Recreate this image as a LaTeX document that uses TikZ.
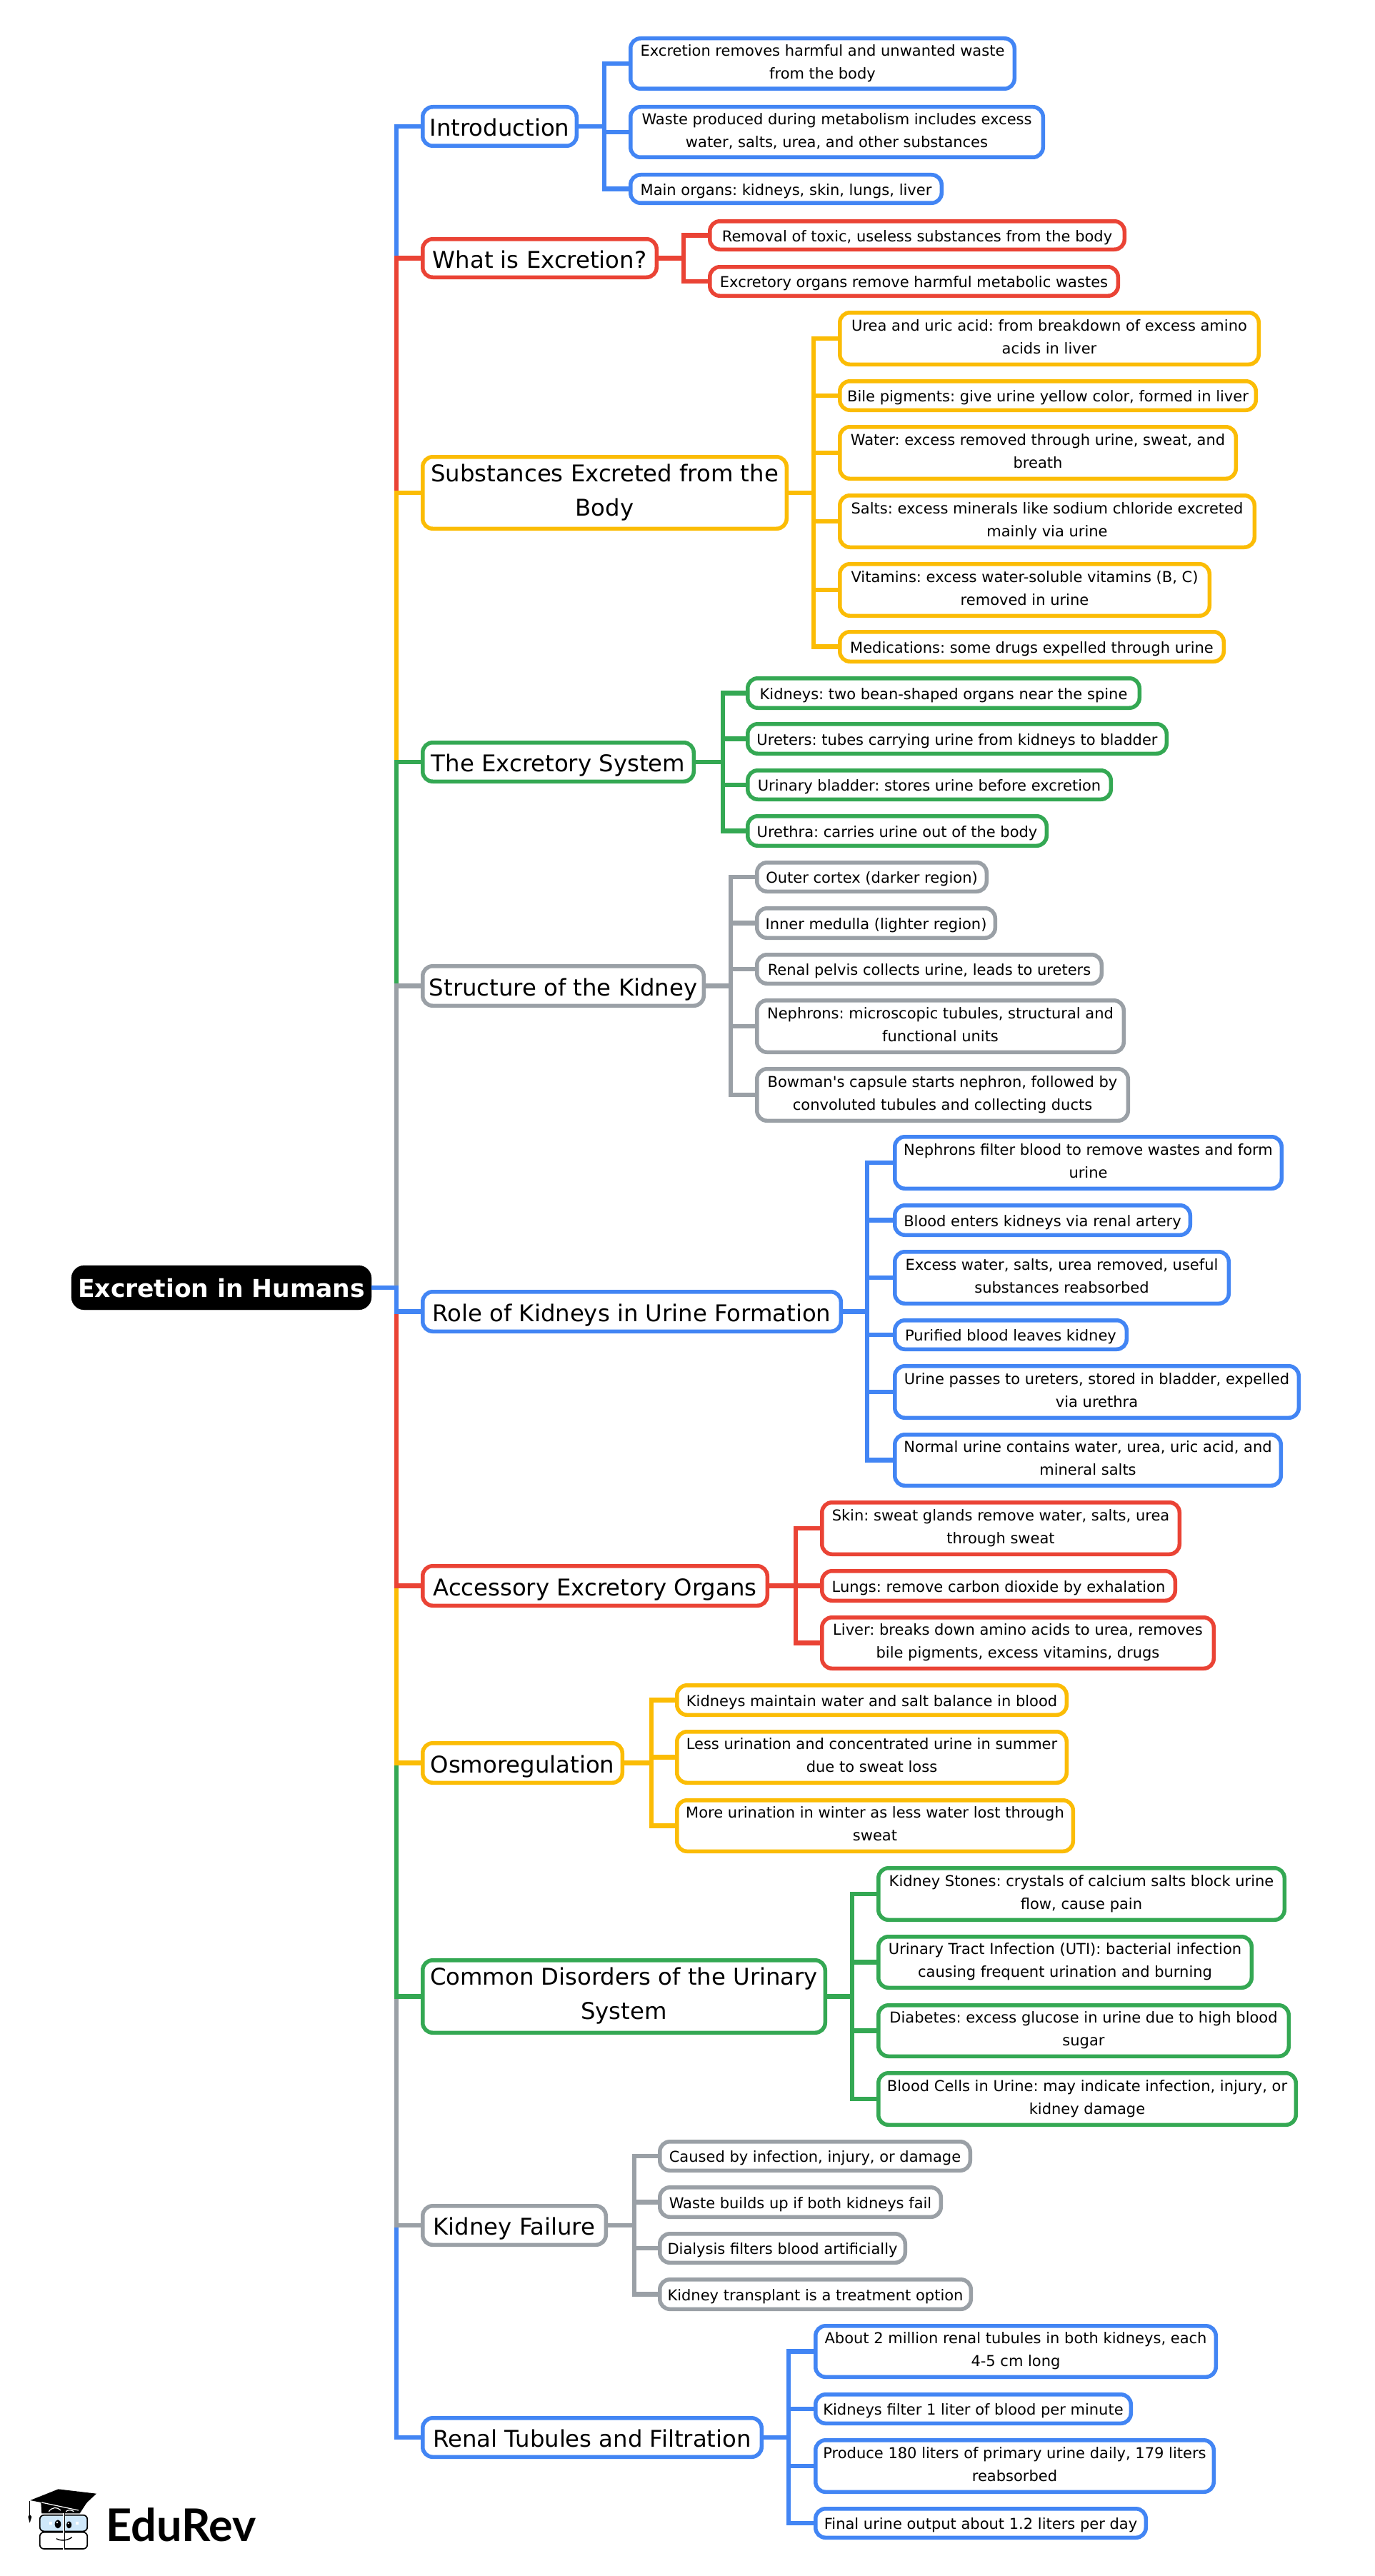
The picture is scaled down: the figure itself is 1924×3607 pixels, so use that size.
\documentclass[tikz,border=0pt]{standalone}
\usepackage{fontspec}
\setmainfont{DejaVu Sans}
\newfontfamily\logofont{Lato}
\frenchspacing
\newcommand{\straightquote}{\XeTeXglyph\XeTeXcharglyph"0027 }
\definecolor{cblue}{HTML}{4285F4}
\definecolor{cred}{HTML}{EA4335}
\definecolor{cyel}{HTML}{FBBC05}
\definecolor{cgrn}{HTML}{34A853}
\definecolor{cgry}{HTML}{9AA0A6}
\definecolor{lens}{HTML}{CFE8FA}
\tikzset{
  boxbase/.style={draw=#1,fill=white,rectangle,rounded corners=14pt,line width=5.5pt,inner sep=0pt,outer sep=0pt,align=center,text=black},
  leafbox/.style={boxbase=#1,font=\fontsize{21}{32.4}\selectfont,
    execute at begin node={\rule{0pt}{23pt}},execute at end node={\rule[-5.5pt]{0pt}{5.5pt}}},
  mainbox/.style={boxbase=#1,font=\fontsize{32.3}{48}\selectfont,
    execute at begin node={\rule{0pt}{35pt}},execute at end node={\rule[-8pt]{0pt}{8pt}}},
  rootbox/.style={draw=black,fill=black,rectangle,rounded corners=18pt,text=white,inner sep=0pt,outer sep=0pt,font=\fontsize{34.5}{40}\selectfont\bfseries,
    execute at begin node={\rule{0pt}{36pt}},execute at end node={\rule[-8.5pt]{0pt}{8.5pt}}},
  link/.style={draw=#1,line width=6.5pt,line join=miter,line cap=butt},
}
% \mainnode{id}{colour}{left}{right}{top}{bottom}{junction x}{text}
\newcommand{\mainnode}[8]{%
  \pgfmathsetmacro{\mw}{#4+1-(#3-3)-5.5}\pgfmathsetmacro{\mh}{#6-#5-5.5}%
  \pgfmathsetmacro{\mx}{(#3-3+#4+1)/2}\pgfmathsetmacro{\my}{(#5+#6)/2}%
  \node[mainbox=#2,minimum width=\mw pt,minimum height=\mh pt] (#1) at (\mx,\my) {#8};
  \coordinate (#1j) at (#7,\my);
  \draw[link=#2] (#1.east) -- (#1j);
}
% \leafnode{id}{colour}{main id}{left}{right}{top}{bottom}{text}
\newcommand{\leafnode}[8]{%
  \pgfmathsetmacro{\mw}{#5-(#4-3)-5.5}\pgfmathsetmacro{\mh}{#7-#6-5.5}%
  \pgfmathsetmacro{\mx}{(#4-3+#5)/2}\pgfmathsetmacro{\my}{(#6+#7)/2}%
  \node[leafbox=#2,minimum width=\mw pt,minimum height=\mh pt] (#1) at (\mx,\my) {#8};
  \draw[link=#2] (#3j) |- (#1.west);
}
\begin{document}
\begin{tikzpicture}[x=1pt,y=-1pt]
\useasboundingbox (0,0) rectangle (1924,3607);
\fill[white] (0,0) rectangle (1924,3607);

\node[rootbox,minimum width=420pt,minimum height=62pt] (root) at (310,1803) {Excretion in Humans};
\coordinate (trunk) at (555,1803);

\mainnode{intro}{cblue}{592}{809}{147}{207}{846}{Introduction}
\leafnode{i1}{cblue}{intro}{883}{1423}{51}{127}{Excretion removes harmful and unwanted waste\\from the body}
\leafnode{i2}{cblue}{intro}{883}{1463}{147}{223}{Waste produced during metabolism includes excess\\water, salts, urea, and other substances}
\leafnode{i3}{cblue}{intro}{883}{1321}{242}{287}{Main organs: kidneys, skin, lungs, liver}

\mainnode{what}{cred}{592}{921}{332}{391}{957}{What is Excretion?}
\leafnode{w1}{cred}{what}{994}{1577}{307}{352}{Removal of toxic, useless substances from the body}
\leafnode{w2}{cred}{what}{994}{1568}{371}{417}{Excretory organs remove harmful metabolic wastes}

\mainnode{subs}{cyel}{592}{1103}{637}{743}{1139}{Substances Excreted from the\\Body}
\leafnode{s1}{cyel}{subs}{1176}{1765}{435}{513}{Urea and uric acid: from breakdown of excess amino\\acids in liver}
\leafnode{s2}{cyel}{subs}{1176}{1761}{531}{577}{Bile pigments: give urine yellow color, formed in liver}
\leafnode{s3}{cyel}{subs}{1176}{1733}{595}{673}{Water: excess removed through urine, sweat, and\\breath}
\leafnode{s4}{cyel}{subs}{1176}{1759}{691}{769}{Salts: excess minerals like sodium chloride excreted\\mainly via urine}
\leafnode{s5}{cyel}{subs}{1176}{1696}{787}{865}{Vitamins: excess water-soluble vitamins (B, C)\\removed in urine}
\leafnode{s6}{cyel}{subs}{1176}{1716}{882}{929}{Medications: some drugs expelled through urine}

\mainnode{excr}{cgrn}{592}{973}{1037}{1097}{1012}{The Excretory System}
\leafnode{e1}{cgrn}{excr}{1047}{1598}{947}{994}{Kidneys: two bean-shaped organs near the spine}
\leafnode{e2}{cgrn}{excr}{1047}{1636}{1011}{1058}{Ureters: tubes carrying urine from kidneys to bladder}
\leafnode{e3}{cgrn}{excr}{1047}{1558}{1076}{1122}{Urinary bladder: stores urine before excretion}
\leafnode{e4}{cgrn}{excr}{1047}{1468}{1140}{1187}{Urethra: carries urine out of the body}

\mainnode{stru}{cgry}{592}{987}{1350}{1411}{1023}{Structure of the Kidney}
\leafnode{k1}{cgry}{stru}{1060}{1384}{1205}{1251}{Outer cortex (darker region)}
\leafnode{k2}{cgry}{stru}{1060}{1396}{1269}{1316}{Inner medulla (lighter region)}
\leafnode{k3}{cgry}{stru}{1060}{1545}{1334}{1380}{Renal pelvis collects urine, leads to ureters}
\leafnode{k4}{cgry}{stru}{1060}{1576}{1398}{1476}{Nephrons: microscopic tubules, structural and\\functional units}
\leafnode{k5}{cgry}{stru}{1060}{1582}{1494}{1572}{Bowman\straightquote s capsule starts nephron, followed by\\convoluted tubules and collecting ducts}

\mainnode{role}{cblue}{592}{1179}{1806}{1867}{1214}{Role of Kidneys in Urine Formation}
\leafnode{r1}{cblue}{role}{1253}{1797}{1589}{1667}{Nephrons filter blood to remove wastes and form\\urine}
\leafnode{r2}{cblue}{role}{1253}{1669}{1685}{1732}{Blood enters kidneys via renal artery}
\leafnode{r3}{cblue}{role}{1253}{1723}{1750}{1828}{Excess water, salts, urea removed, useful\\substances reabsorbed}
\leafnode{r4}{cblue}{role}{1253}{1580}{1846}{1892}{Purified blood leaves kidney}
\leafnode{r5}{cblue}{role}{1253}{1821}{1910}{1988}{Urine passes to ureters, stored in bladder, expelled\\via urethra}
\leafnode{r6}{cblue}{role}{1253}{1796}{2006}{2083}{Normal urine contains water, urea, uric acid, and\\mineral salts}

\mainnode{acce}{cred}{592}{1076}{2190}{2251}{1114}{Accessory Excretory Organs}
\leafnode{a1}{cred}{acce}{1151}{1654}{2101}{2179}{Skin: sweat glands remove water, salts, urea\\through sweat}
\leafnode{a2}{cred}{acce}{1151}{1648}{2197}{2244}{Lungs: remove carbon dioxide by exhalation}
\leafnode{a3}{cred}{acce}{1151}{1702}{2262}{2339}{Liver: breaks down amino acids to urea, removes\\bile pigments, excess vitamins, drugs}

\mainnode{osmo}{cyel}{592}{873}{2438}{2499}{912}{Osmoregulation}
\leafnode{o1}{cyel}{osmo}{948}{1496}{2357}{2404}{Kidneys maintain water and salt balance in blood}
\leafnode{o2}{cyel}{osmo}{948}{1496}{2422}{2499}{Less urination and concentrated urine in summer\\due to sweat loss}
\leafnode{o3}{cyel}{osmo}{948}{1505}{2518}{2595}{More urination in winter as less water lost through\\sweat}

\mainnode{comm}{cgrn}{592}{1157}{2742}{2849}{1193}{Common Disorders of the Urinary\\System}
\leafnode{c1}{cgrn}{comm}{1230}{1801}{2613}{2691}{Kidney Stones: crystals of calcium salts block urine\\flow, cause pain}
\leafnode{c2}{cgrn}{comm}{1230}{1755}{2709}{2786}{Urinary Tract Infection (UTI): bacterial infection\\causing frequent urination and burning}
\leafnode{c3}{cgrn}{comm}{1230}{1807}{2805}{2882}{Diabetes: excess glucose in urine due to high blood\\sugar}
\leafnode{c4}{cgrn}{comm}{1230}{1817}{2900}{2978}{Blood Cells in Urine: may indicate infection, injury, or\\kidney damage}

\mainnode{fail}{cgry}{592}{850}{3086}{3146}{888}{Kidney Failure}
\leafnode{f1}{cgry}{fail}{924}{1361}{2996}{3042}{Caused by infection, injury, or damage}
\leafnode{f2}{cgry}{fail}{924}{1320}{3060}{3107}{Waste builds up if both kidneys fail}
\leafnode{f3}{cgry}{fail}{924}{1270}{3125}{3171}{Dialysis filters blood artificially}
\leafnode{f4}{cgry}{fail}{924}{1362}{3189}{3236}{Kidney transplant is a treatment option}

\mainnode{rena}{cblue}{592}{1068}{3383}{3443}{1104}{Renal Tubules and Filtration}
\leafnode{t1}{cblue}{rena}{1142}{1705}{3254}{3331}{About 2 million renal tubules in both kidneys, each\\4-5 cm long}
\leafnode{t2}{cblue}{rena}{1142}{1586}{3350}{3396}{Kidneys filter 1 liter of blood per minute}
\leafnode{t3}{cblue}{rena}{1142}{1702}{3414}{3492}{Produce 180 liters of primary urine daily, 179 liters\\reabsorbed}
\leafnode{t4}{cblue}{rena}{1142}{1607}{3510}{3556}{Final urine output about 1.2 liters per day}

% trunk connectors, in the order that gives each stretch its colour
\draw[link=cblue] (root.east) -- (trunk) |- (intro.west);
\draw[link=cred]  (root.east) -- (trunk) |- (what.west);
\draw[link=cyel]  (root.east) -- (trunk) |- (subs.west);
\draw[link=cgrn]  (root.east) -- (trunk) |- (excr.west);
\draw[link=cgry]  (root.east) -- (trunk) |- (stru.west);
\draw[link=cblue] (root.east) -- (trunk) |- (rena.west);
\draw[link=cgry]  (root.east) -- (trunk) |- (fail.west);
\draw[link=cgrn]  (root.east) -- (trunk) |- (comm.west);
\draw[link=cyel]  (root.east) -- (trunk) |- (osmo.west);
\draw[link=cred]  (root.east) -- (trunk) |- (acce.west);
\draw[link=cblue] (root.east) -- (trunk) |- (role.west);

% EduRev logo
\node[anchor=west,inner sep=0pt,font=\fontsize{63}{63}\selectfont\logofont\bfseries,text=black] (logotext) at (148,3535) {EduRev};
\begin{scope}[shift={(0,3380)},x=0.33333pt,y=-0.33333pt]
  \fill[black] (172,372) -- (175,418) -- (335,418) -- (365,372) -- cycle;
  \fill[black] (127,363) -- (245,316) -- (405,335) -- (332,403) -- cycle;
  \draw[white,line width=1.2pt] (175,372) -- (330,405);
  \draw[black,line width=1.2pt] (125,365) -- (125,425);
  \fill[black] (118,432) -- (125,422) -- (133,432) -- (125,458) -- cycle;
  \draw[white,line width=1.2pt] (205,410) .. controls (220,390) and (240,390) .. (255,405);
  \draw[white,line width=1.2pt] (277,410) .. controls (285,402) and (300,402) .. (310,410);
  \draw[black,fill=lens,line width=1.7pt,rounded corners=6pt] (167,425) rectangle (367,493);
  \draw[black,line width=1.7pt,rounded corners=6pt] (167,567) -- (167,497) -- (367,497) -- (367,567) -- cycle;
  \draw[white,line width=2.6pt] (268,418) -- (268,570);
  \draw[black,line width=1.4pt] (271,418) -- (271,570);
  \fill[black] (243,463) ellipse [x radius=13,y radius=18];
  \fill[black] (290,466) ellipse [x radius=11,y radius=15];
  \fill[white] (240,456) circle [radius=4];
  \fill[white] (287,460) circle [radius=3];
  \fill[white] (206,454) rectangle (218,466);
  \fill[white] (317,454) rectangle (329,466);
  \draw[black,line width=1.4pt] (237,524) .. controls (255,535) and (285,532) .. (302,518);
\end{scope}
\end{tikzpicture}
\end{document}
